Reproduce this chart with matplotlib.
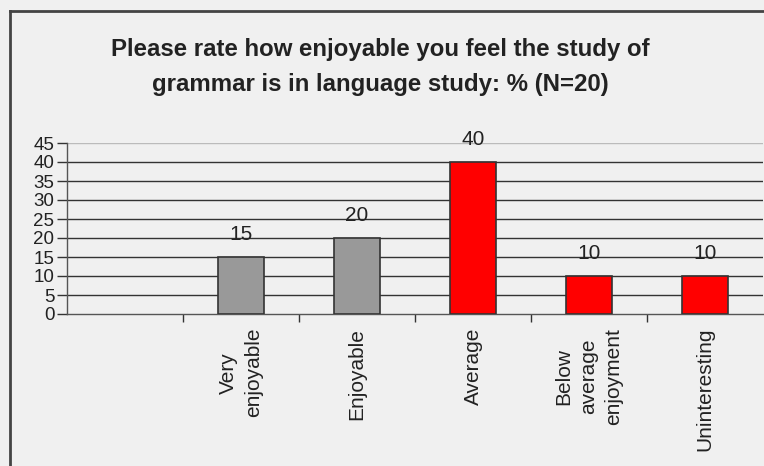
import matplotlib
matplotlib.use('Agg')
import matplotlib.pyplot as plt
import numpy as np

plt.rcParams['font.family'] = ['Liberation Sans', 'DejaVu Sans']

# ── data ───────────────────────────────────────────────
categories = ['', 'Very\nenjoyable', 'Enjoyable', 'Average',
              'Below\naverage\nenjoyment', 'Uninteresting']
values     = [None, 15, 20, 40, 10, 10]
bar_colors = [None, '#999999', '#999999', '#FF0000', '#FF0000', '#FF0000']
y_ticks    = list(range(0, 50, 5))
title      = ('Please rate how enjoyable you feel the study of\n'
              'grammar is in language study: % (N=20)')

BG = '#F0F0F0'
W, H = 764, 466

fig = plt.figure(figsize=(W / 100, H / 100), dpi=100, facecolor=BG)
ax = fig.add_axes([67 / W, 1 - 314 / H, (763 - 67) / W, (314 - 143) / H])
ax.set_facecolor(BG)

x = np.arange(len(categories))
for xi, v, c in zip(x, values, bar_colors):
    if v is None:
        continue
    ax.bar(xi, v, width=0.4, color=c, edgecolor='#333333', lw=1.2, zorder=3)
    ax.text(xi, v + 3.3, f'{v}', ha='center', va='bottom',
            fontsize=15, color='#222222', zorder=4)

ax.set_xlim(-0.5, len(categories) - 0.5)
ax.set_ylim(0, 45)
ax.set_yticks(y_ticks)
ax.set_yticklabels([str(t) for t in y_ticks], fontsize=13.5, color='#222222')
for t in y_ticks[1:]:
    ax.axhline(t, color='#333333' if t < 45 else '#BBBBBB', lw=1, zorder=1)

ax.set_xticks(x[:-1] + 0.5)
ax.set_xticklabels([])
ax.set_xticks(x, minor=True)
ax.set_xticklabels(categories, minor=True, rotation=90, ha='center',
                   va='top', multialignment='center', fontsize=15,
                   color='#222222', linespacing=1.4)
ax.tick_params(axis='x', which='major', length=6, color='#333333', width=1)
ax.tick_params(axis='x', which='minor', length=0, pad=10)
ax.tick_params(axis='y', length=7, color='#333333', width=1, pad=2)

for s in ['top', 'right']:
    ax.spines[s].set_visible(False)
for s in ['left', 'bottom']:
    ax.spines[s].set_color('#555555')
    ax.spines[s].set_linewidth(1)

fig.text(380 / W, 1 - 67 / H, title, ha='center', va='center',
         fontsize=17.3, fontweight='bold', color='#222222', linespacing=1.65)

# chart frame (only left/top edge visible in the crop)
fig.add_artist(plt.Line2D([10 / W, 10 / W], [0, 1 - 11 / H],
                          transform=fig.transFigure, color='#444444', lw=2))
fig.add_artist(plt.Line2D([10 / W, 1], [1 - 11 / H, 1 - 11 / H],
                          transform=fig.transFigure, color='#444444', lw=2))

fig.savefig('out.png', dpi=100, facecolor=BG)
